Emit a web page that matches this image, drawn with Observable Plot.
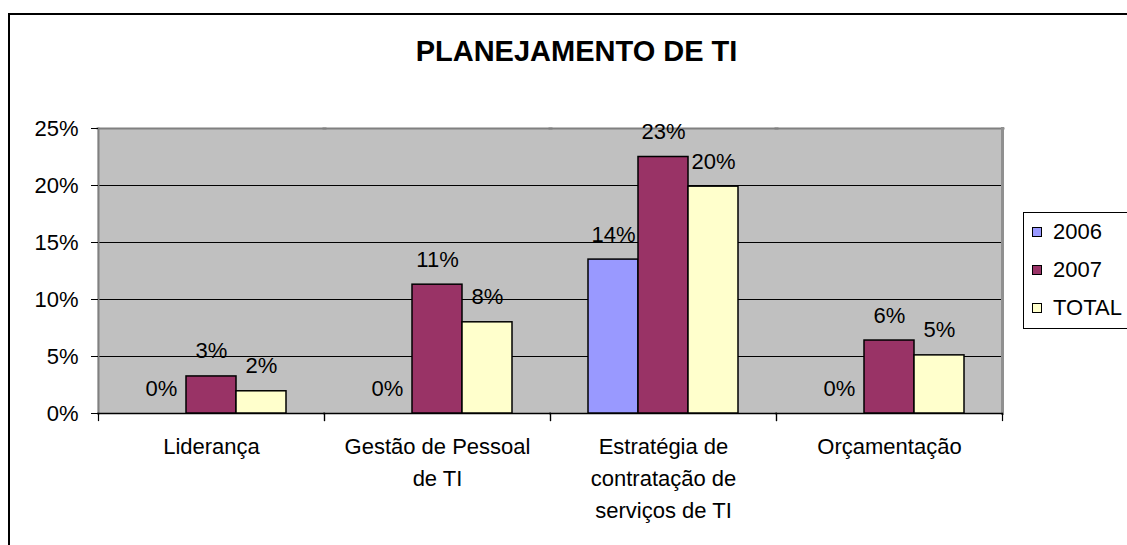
<!DOCTYPE html>
<html>
<head>
<meta charset="utf-8">
<script src="https://cdn.jsdelivr.net/npm/d3@7"></script>
<script src="https://cdn.jsdelivr.net/npm/@observablehq/plot@0.6"></script>
<style>
  html, body { margin: 0; padding: 0; background: #fff; overflow: hidden; }
  #wrap { position: relative; width: 1127px; height: 545px; overflow: hidden;
          font-family: "Liberation Sans", Arial, sans-serif; color: #000; }
  #border { position: absolute; left: 8px; top: 13px; width: 1200px; height: 600px;
            border: 2px solid #000; box-sizing: border-box; pointer-events: none; }
  #title { width: 1153px; height: 80px; box-sizing: border-box; padding-top: 37px;
           font-size: 29px; line-height: 29px; font-weight: bold; text-align: center; }
  #chart svg { display: block; }
  #legend { position: absolute; left: 1023px; top: 212px; width: 140px; height: 117px;
            border: 1px solid #000; box-sizing: border-box; background: #fff; }
  .item { display: flex; align-items: center; height: 38px; padding-left: 8px; font-size: 22px; }
  .sw { width: 8px; height: 8px; border: 1px solid #000; margin-right: 11px; flex: none; }
</style>
</head>
<body>
<div id="wrap">
  <div id="border"></div>
  <div id="title">PLANEJAMENTO DE TI</div>
  <div id="chart"></div>
  <div id="legend"></div>
</div>
<script>
const categories = ["Liderança", "Gestão de Pessoal de TI", "Estratégia de contratação de serviços de TI", "Orçamentação"];
const categoryLabels = ["Liderança", "Gestão de Pessoal\nde TI", "Estratégia de\ncontratação de\nserviços de TI", "Orçamentação"];
const series = ["2006", "2007", "TOTAL"];
const values2006 = [0, 0, 0.135, 0];
const values2007 = [0.0325, 0.113, 0.225, 0.064];
const valuesTotal = [0.0195, 0.080, 0.199, 0.051];
const seriesColors = ["#9999FF", "#993366", "#FFFFCC"];
const yTicks = [0, 0.05, 0.10, 0.15, 0.20, 0.25];

const valuesBySeries = [values2006, values2007, valuesTotal];
const data = [];
categories.forEach((cat, i) => {
  series.forEach((s, j) => data.push({cat, series: s, value: valuesBySeries[j][i]}));
});
const labelMap = new Map(categories.map((c, i) => [c, categoryLabels[i]]));
const pct = d3.format(".0%");

const W = 1127, H = 465, mT = 48, mB = 132, mL = 98, mR = 125;
const plotH = H - mT - mB;
const font = "'Liberation Sans', Arial, sans-serif";
const firstCat = categories[0], lastCat = categories[categories.length - 1];

const chart = Plot.plot({
  width: W, height: H,
  marginTop: mT, marginBottom: mB, marginLeft: mL, marginRight: mR,
  style: {fontFamily: font, fontSize: "22px", color: "#000", background: "transparent", overflow: "visible"},
  fx: {domain: categories, padding: 0, label: null},
  x: {domain: series, paddingInner: 0, paddingOuter: 0.72, axis: null},
  y: {domain: [0, 0.25], label: null},
  color: {domain: series, range: seriesColors},
  marks: [
    Plot.frame({fill: "#C0C0C0", stroke: "none", insetLeft: -1, insetRight: -1}),
    Plot.ruleY(yTicks.filter(t => t > 0 && t < 0.25), {stroke: "#000", strokeWidth: 1, insetLeft: -1, insetRight: -1}),
    Plot.frame({anchor: "top", stroke: "#808080", strokeWidth: 2, insetLeft: -1, insetRight: -1}),
    Plot.frame({anchor: "left", stroke: "#808080", strokeWidth: 2, fx: () => firstCat}),
    Plot.frame({anchor: "right", stroke: "#909090", strokeWidth: 3, fx: () => lastCat}),
    Plot.ruleY([0], {stroke: "#000", strokeWidth: 1.5, insetLeft: -1, insetRight: -1}),
    Plot.frame({anchor: "left", stroke: "#000", strokeWidth: 1.2, insetTop: plotH, insetBottom: -7}),
    Plot.frame({anchor: "right", stroke: "#000", strokeWidth: 1.2, insetTop: plotH, insetBottom: -7}),
    Plot.barY(data, {fx: "cat", x: "series", y: "value", fill: "series", stroke: "#000", strokeWidth: 1.5}),
    Plot.text(data, {fx: "cat", x: "series", y: "value", text: d => pct(d.value), dy: -25, fontSize: 22, fill: "#000"}),
    Plot.axisY({ticks: yTicks, tickFormat: pct, tickSize: 7, tickPadding: 13, fontSize: 22, label: null, stroke: "#000"}),
    Plot.axisFx({anchor: "bottom", tickSize: 0, tickPadding: 18, tickFormat: d => labelMap.get(d), fontSize: 22, lineHeight: 1.45, label: null})
  ]
});
document.getElementById("chart").appendChild(chart);

const legend = document.getElementById("legend");
series.forEach((s, j) => {
  const row = document.createElement("div");
  row.className = "item";
  const sw = document.createElement("span");
  sw.className = "sw";
  sw.style.background = seriesColors[j];
  row.appendChild(sw);
  row.appendChild(document.createTextNode(s));
  legend.appendChild(row);
});
</script>
</body>
</html>
